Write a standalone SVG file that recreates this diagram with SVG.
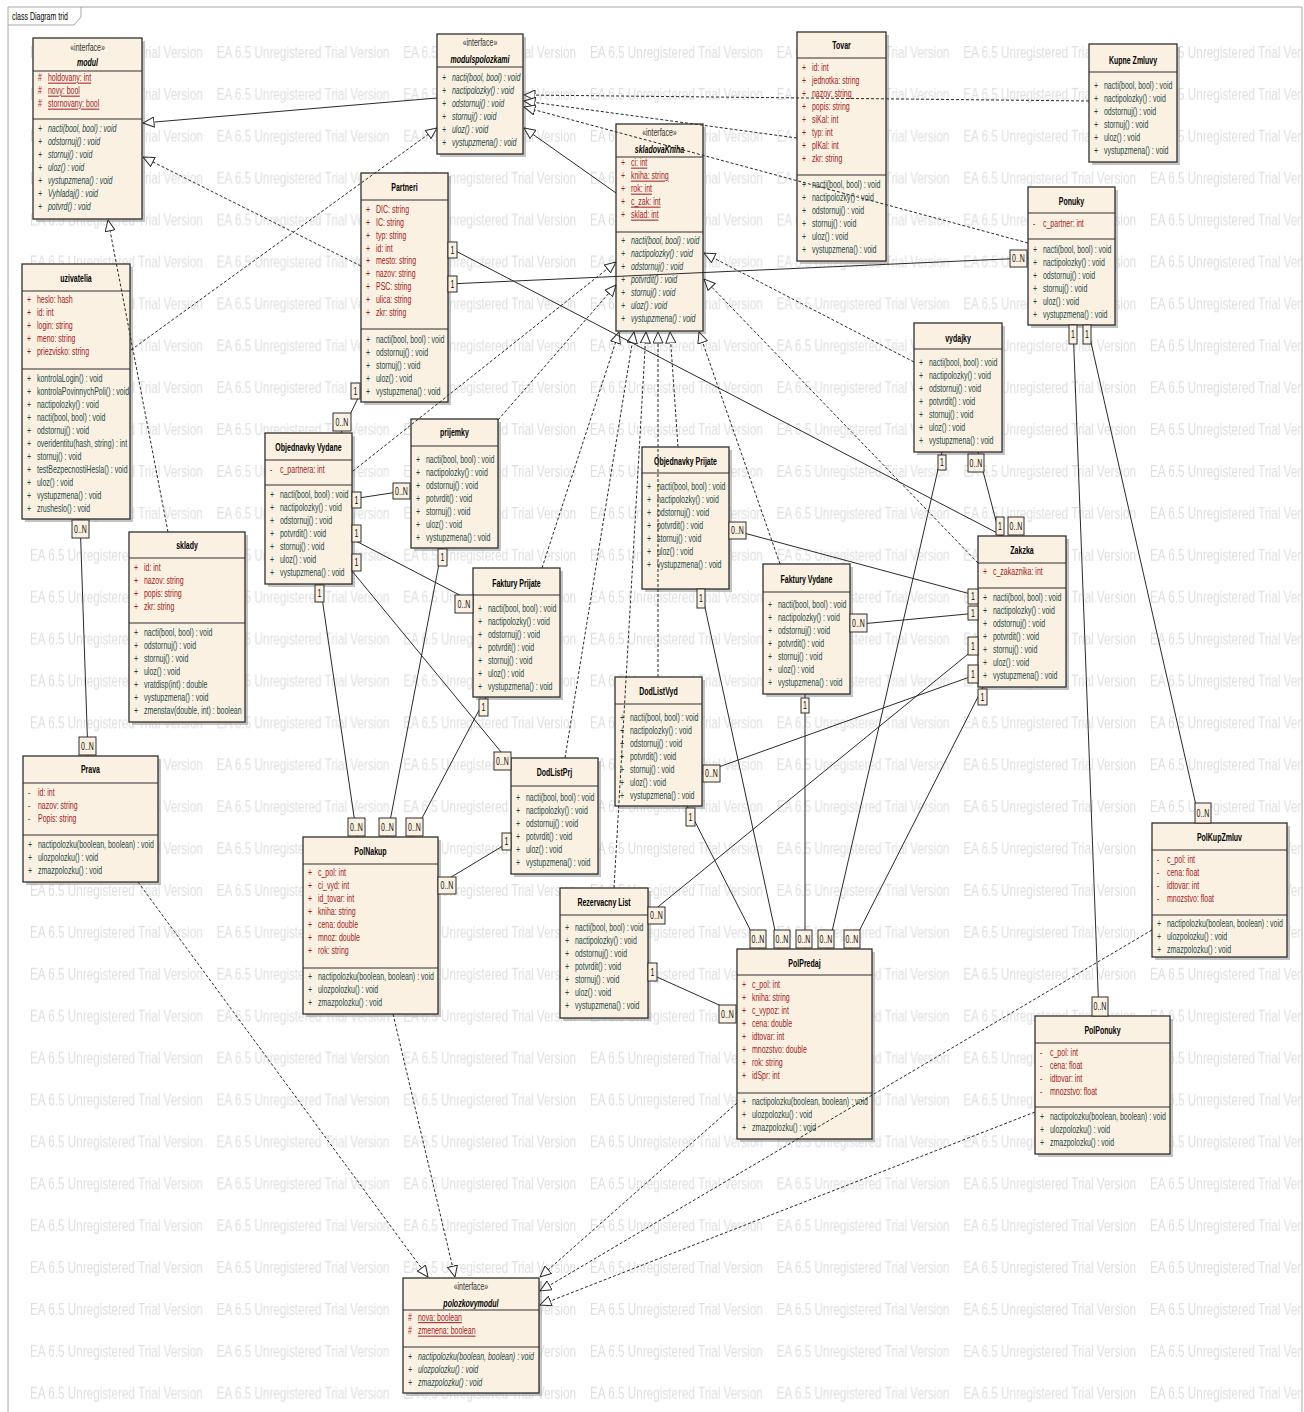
<svg xmlns="http://www.w3.org/2000/svg" width="1304" height="1412" viewBox="0 0 1304 1412">
<style>
text{font-family:"Liberation Sans",Arial,Helvetica,sans-serif;font-size:10px;fill:#111}
.box{fill:#fbf1e2;stroke:#2e2e2e;stroke-width:1.3}
.sh{fill:#9c9c9c;opacity:.6}
.sep{stroke:#2e2e2e;stroke-width:1.2;fill:none}
.t{font-weight:bold;text-anchor:middle;fill:#000}
.ti{font-weight:bold;font-style:italic;text-anchor:middle;fill:#000}
.st{text-anchor:middle;fill:#333}
.a{fill:#a3191b}
.m{fill:#1d4a4a}
.i{font-style:italic}
.u{text-decoration:underline}
.c{fill:none;stroke:#2a2a2a;stroke-width:1}
.d{stroke-dasharray:3 2}
.lb rect{fill:#fbf1e2;stroke:#2e2e2e;stroke-width:1}
.lb text{text-anchor:middle;fill:#111}
.wm{font-size:16.3px;fill:#dedede}
.fr{fill:none;stroke:#a8a8a8;stroke-width:1}
</style>
<defs>
<marker id="tri" viewBox="0 0 12 11" refX="11.5" refY="5.5" markerWidth="12" markerHeight="11" markerUnits="userSpaceOnUse" orient="auto">
<path d="M0.5 0.5L11.5 5.5L0.5 10.5Z" fill="#fff" stroke="#2a2a2a" stroke-width="1"/>
</marker>
<pattern id="wm" patternUnits="userSpaceOnUse" x="30" y="40" width="186.67" height="41.9">
<text class="wm" transform="translate(0 18) scale(.72 1)">EA 6.5 Unregistered Trial Version</text>
</pattern>
</defs>
<rect width="1304" height="1412" fill="#fff"/>
<rect x="22" y="26" width="1280" height="1386" fill="url(#wm)"/>
<g id="frame">
<path class="fr" d="M8 1412V7H1302V1412"/>
<path class="fr" d="M8 25H74L81 17V7"/>
<text transform="translate(12 19.5) scale(.7 1)" style="fill:#000">class Diagram trid</text>
</g>

<g id="modul">
<rect class="sh" x="36" y="41" width="109" height="181"/>
<rect class="box" x="33" y="38" width="109" height="181"/>
<path class="sep" d="M33 71H142M33 119H142"/>
<g transform="translate(33 0) scale(.7 1)">
<text class="st" x="77.9" y="51.5">«interface»</text>
<text class="ti" x="77.9" y="66.5">modul</text>
<text class="a" y="81.5"><tspan x="7">#</tspan><tspan x="21.4" class="u">holdovany: int</tspan></text>
<text class="a" y="94.5"><tspan x="7">#</tspan><tspan x="21.4" class="u">novy: bool</tspan></text>
<text class="a" y="107.5"><tspan x="7">#</tspan><tspan x="21.4" class="u">stornovany: bool</tspan></text>
<text class="m i" y="132.5"><tspan x="7">+</tspan><tspan x="21.4">nacti(bool, bool) : void</tspan></text>
<text class="m i" y="145.5"><tspan x="7">+</tspan><tspan x="21.4">odstornuj() : void</tspan></text>
<text class="m i" y="158.5"><tspan x="7">+</tspan><tspan x="21.4">stornuj() : void</tspan></text>
<text class="m i" y="171.5"><tspan x="7">+</tspan><tspan x="21.4">uloz() : void</tspan></text>
<text class="m i" y="184.5"><tspan x="7">+</tspan><tspan x="21.4">vystupzmena() : void</tspan></text>
<text class="m i" y="197.5"><tspan x="7">+</tspan><tspan x="21.4">Vyhladaj() : void</tspan></text>
<text class="m i" y="210.5"><tspan x="7">+</tspan><tspan x="21.4">potvrd() : void</tspan></text>
</g>
</g>

<g id="modulspolozkami">
<rect class="sh" x="440" y="37" width="86" height="120"/>
<rect class="box" x="437" y="34" width="86" height="120"/>
<path class="sep" d="M437 67H523"/>
<g transform="translate(437 0) scale(.7 1)">
<text class="st" x="61.4" y="46.5">«interface»</text>
<text class="ti" x="61.4" y="63.5">modulspolozkami</text>
<text class="m i" y="81.5"><tspan x="7">+</tspan><tspan x="21.4">nacti(bool, bool) : void</tspan></text>
<text class="m i" y="94.5"><tspan x="7">+</tspan><tspan x="21.4">nactipolozky() : void</tspan></text>
<text class="m i" y="107.5"><tspan x="7">+</tspan><tspan x="21.4">odstornuj() : void</tspan></text>
<text class="m i" y="120.5"><tspan x="7">+</tspan><tspan x="21.4">stornuj() : void</tspan></text>
<text class="m i" y="133.5"><tspan x="7">+</tspan><tspan x="21.4">uloz() : void</tspan></text>
<text class="m i" y="146.5"><tspan x="7">+</tspan><tspan x="21.4">vystupzmena() : void</tspan></text>
</g>
</g>

<g id="skladovaKniha">
<rect class="sh" x="619" y="127" width="87" height="207"/>
<rect class="box" x="616" y="124" width="87" height="207"/>
<path class="sep" d="M616 157H703M616 232H703"/>
<g transform="translate(616 0) scale(.7 1)">
<text class="st" x="62.1" y="136.5">«interface»</text>
<text class="ti" x="62.1" y="153.5">skladovaKniha</text>
<text class="a" y="166.5"><tspan x="7">+</tspan><tspan x="21.4" class="u">ci: int</tspan></text>
<text class="a" y="179.5"><tspan x="7">+</tspan><tspan x="21.4" class="u">kniha: string</tspan></text>
<text class="a" y="192.5"><tspan x="7">+</tspan><tspan x="21.4" class="u">rok: int</tspan></text>
<text class="a" y="205.5"><tspan x="7">+</tspan><tspan x="21.4" class="u">c_zak: int</tspan></text>
<text class="a" y="218.5"><tspan x="7">+</tspan><tspan x="21.4" class="u">sklad: int</tspan></text>
<text class="m i" y="244.5"><tspan x="7">+</tspan><tspan x="21.4">nacti(bool, bool) : void</tspan></text>
<text class="m i" y="257.5"><tspan x="7">+</tspan><tspan x="21.4">nactipolozky() : void</tspan></text>
<text class="m i" y="270.5"><tspan x="7">+</tspan><tspan x="21.4">odstornuj() : void</tspan></text>
<text class="m i" y="283.5"><tspan x="7">+</tspan><tspan x="21.4">potvrdit() : void</tspan></text>
<text class="m i" y="296.5"><tspan x="7">+</tspan><tspan x="21.4">stornuj() : void</tspan></text>
<text class="m i" y="309.5"><tspan x="7">+</tspan><tspan x="21.4">uloz() : void</tspan></text>
<text class="m i" y="322.5"><tspan x="7">+</tspan><tspan x="21.4">vystupzmena() : void</tspan></text>
</g>
</g>

<g id="Tovar">
<rect class="sh" x="800" y="35" width="89" height="229"/>
<rect class="box" x="797" y="32" width="89" height="229"/>
<path class="sep" d="M797 58H886M797 175H886"/>
<g transform="translate(797 0) scale(.7 1)">
<text class="t" x="63.6" y="49.5">Tovar</text>
<text class="a" y="71.5"><tspan x="7">+</tspan><tspan x="21.4">id: int</tspan></text>
<text class="a" y="84.5"><tspan x="7">+</tspan><tspan x="21.4">jednotka: string</tspan></text>
<text class="a" y="97.5"><tspan x="7">+</tspan><tspan x="21.4">nazov: string</tspan></text>
<text class="a" y="110.5"><tspan x="7">+</tspan><tspan x="21.4">popis: string</tspan></text>
<text class="a" y="123.5"><tspan x="7">+</tspan><tspan x="21.4">siKal: int</tspan></text>
<text class="a" y="136.5"><tspan x="7">+</tspan><tspan x="21.4">typ: int</tspan></text>
<text class="a" y="149.5"><tspan x="7">+</tspan><tspan x="21.4">plKal: int</tspan></text>
<text class="a" y="162.5"><tspan x="7">+</tspan><tspan x="21.4">zkr: string</tspan></text>
<text class="m" y="188.5"><tspan x="7">+</tspan><tspan x="21.4">nacti(bool, bool) : void</tspan></text>
<text class="m" y="201.5"><tspan x="7">+</tspan><tspan x="21.4">nactipolozky() : void</tspan></text>
<text class="m" y="214.5"><tspan x="7">+</tspan><tspan x="21.4">odstornuj() : void</tspan></text>
<text class="m" y="227.5"><tspan x="7">+</tspan><tspan x="21.4">stornuj() : void</tspan></text>
<text class="m" y="240.5"><tspan x="7">+</tspan><tspan x="21.4">uloz() : void</tspan></text>
<text class="m" y="253.5"><tspan x="7">+</tspan><tspan x="21.4">vystupzmena() : void</tspan></text>
</g>
</g>

<g id="KupneZmluvy">
<rect class="sh" x="1092" y="47" width="88" height="118"/>
<rect class="box" x="1089" y="44" width="88" height="118"/>
<path class="sep" d="M1089 72H1177"/>
<g transform="translate(1089 0) scale(.7 1)">
<text class="t" x="62.9" y="64">Kupne Zmluvy</text>
<text class="m" y="89.5"><tspan x="7">+</tspan><tspan x="21.4">nacti(bool, bool) : void</tspan></text>
<text class="m" y="102.5"><tspan x="7">+</tspan><tspan x="21.4">nactipolozky() : void</tspan></text>
<text class="m" y="115.5"><tspan x="7">+</tspan><tspan x="21.4">odstornuj() : void</tspan></text>
<text class="m" y="128.5"><tspan x="7">+</tspan><tspan x="21.4">stornuj() : void</tspan></text>
<text class="m" y="141.5"><tspan x="7">+</tspan><tspan x="21.4">uloz() : void</tspan></text>
<text class="m" y="154.5"><tspan x="7">+</tspan><tspan x="21.4">vystupzmena() : void</tspan></text>
</g>
</g>

<g id="Ponuky">
<rect class="sh" x="1031" y="190" width="87" height="138"/>
<rect class="box" x="1028" y="187" width="87" height="138"/>
<path class="sep" d="M1028 213H1115M1028 239H1115"/>
<g transform="translate(1028 0) scale(.7 1)">
<text class="t" x="62.1" y="205">Ponuky</text>
<text class="a" y="227.5"><tspan x="7">-</tspan><tspan x="21.4">c_partner: int</tspan></text>
<text class="m" y="253.5"><tspan x="7">+</tspan><tspan x="21.4">nacti(bool, bool) : void</tspan></text>
<text class="m" y="266.5"><tspan x="7">+</tspan><tspan x="21.4">nactipolozky() : void</tspan></text>
<text class="m" y="279.5"><tspan x="7">+</tspan><tspan x="21.4">odstornuj() : void</tspan></text>
<text class="m" y="292.5"><tspan x="7">+</tspan><tspan x="21.4">stornuj() : void</tspan></text>
<text class="m" y="305.5"><tspan x="7">+</tspan><tspan x="21.4">uloz() : void</tspan></text>
<text class="m" y="318.5"><tspan x="7">+</tspan><tspan x="21.4">vystupzmena() : void</tspan></text>
</g>
</g>

<g id="Partneri">
<rect class="sh" x="364" y="176" width="87" height="229"/>
<rect class="box" x="361" y="173" width="87" height="229"/>
<path class="sep" d="M361 200H448M361 329H448"/>
<g transform="translate(361 0) scale(.7 1)">
<text class="t" x="62.1" y="191.5">Partneri</text>
<text class="a" y="213"><tspan x="7">+</tspan><tspan x="21.4">DIC: string</tspan></text>
<text class="a" y="226"><tspan x="7">+</tspan><tspan x="21.4">IC: string</tspan></text>
<text class="a" y="239"><tspan x="7">+</tspan><tspan x="21.4">typ: string</tspan></text>
<text class="a" y="252"><tspan x="7">+</tspan><tspan x="21.4">id: int</tspan></text>
<text class="a" y="264.5"><tspan x="7">+</tspan><tspan x="21.4">mesto: string</tspan></text>
<text class="a" y="277.5"><tspan x="7">+</tspan><tspan x="21.4">nazov: string</tspan></text>
<text class="a" y="290.5"><tspan x="7">+</tspan><tspan x="21.4">PSC: string</tspan></text>
<text class="a" y="303.5"><tspan x="7">+</tspan><tspan x="21.4">ulica: string</tspan></text>
<text class="a" y="316"><tspan x="7">+</tspan><tspan x="21.4">zkr: string</tspan></text>
<text class="m" y="343"><tspan x="7">+</tspan><tspan x="21.4">nacti(bool, bool) : void</tspan></text>
<text class="m" y="356"><tspan x="7">+</tspan><tspan x="21.4">odstornuj() : void</tspan></text>
<text class="m" y="369"><tspan x="7">+</tspan><tspan x="21.4">stornuj() : void</tspan></text>
<text class="m" y="382"><tspan x="7">+</tspan><tspan x="21.4">uloz() : void</tspan></text>
<text class="m" y="395"><tspan x="7">+</tspan><tspan x="21.4">vystupzmena() : void</tspan></text>
</g>
</g>

<g id="uzivatelia">
<rect class="sh" x="25" y="267" width="108" height="255"/>
<rect class="box" x="22" y="264" width="108" height="255"/>
<path class="sep" d="M22 291H130M22 369H130"/>
<g transform="translate(22 0) scale(.7 1)">
<text class="t" x="77.1" y="282.5">uzivatelia</text>
<text class="a" y="303.5"><tspan x="7">+</tspan><tspan x="21.4">heslo: hash</tspan></text>
<text class="a" y="316.5"><tspan x="7">+</tspan><tspan x="21.4">id: int</tspan></text>
<text class="a" y="329.5"><tspan x="7">+</tspan><tspan x="21.4">login: string</tspan></text>
<text class="a" y="342.5"><tspan x="7">+</tspan><tspan x="21.4">meno: string</tspan></text>
<text class="a" y="355.5"><tspan x="7">+</tspan><tspan x="21.4">priezvisko: string</tspan></text>
<text class="m" y="382"><tspan x="7">+</tspan><tspan x="21.4">kontrolaLogin() : void</tspan></text>
<text class="m" y="395"><tspan x="7">+</tspan><tspan x="21.4">kontrolaPovinnychPoli() : void</tspan></text>
<text class="m" y="408"><tspan x="7">+</tspan><tspan x="21.4">nactipolozky() : void</tspan></text>
<text class="m" y="421"><tspan x="7">+</tspan><tspan x="21.4">nacti(bool, bool) : void</tspan></text>
<text class="m" y="434"><tspan x="7">+</tspan><tspan x="21.4">odstornuj() : void</tspan></text>
<text class="m" y="447"><tspan x="7">+</tspan><tspan x="21.4">overidentitu(hash, string) : int</tspan></text>
<text class="m" y="460"><tspan x="7">+</tspan><tspan x="21.4">stornuj() : void</tspan></text>
<text class="m" y="473"><tspan x="7">+</tspan><tspan x="21.4">testBezpecnostiHesla() : void</tspan></text>
<text class="m" y="486"><tspan x="7">+</tspan><tspan x="21.4">uloz() : void</tspan></text>
<text class="m" y="499"><tspan x="7">+</tspan><tspan x="21.4">vystupzmena() : void</tspan></text>
<text class="m" y="512"><tspan x="7">+</tspan><tspan x="21.4">zrusheslo() : void</tspan></text>
</g>
</g>

<g id="sklady">
<rect class="sh" x="132" y="535" width="116" height="190"/>
<rect class="box" x="129" y="532" width="116" height="190"/>
<path class="sep" d="M129 558H245M129 623H245"/>
<g transform="translate(129 0) scale(.7 1)">
<text class="t" x="82.9" y="549">sklady</text>
<text class="a" y="571.5"><tspan x="7">+</tspan><tspan x="21.4">id: int</tspan></text>
<text class="a" y="584.5"><tspan x="7">+</tspan><tspan x="21.4">nazov: string</tspan></text>
<text class="a" y="597.5"><tspan x="7">+</tspan><tspan x="21.4">popis: string</tspan></text>
<text class="a" y="610.5"><tspan x="7">+</tspan><tspan x="21.4">zkr: string</tspan></text>
<text class="m" y="636.5"><tspan x="7">+</tspan><tspan x="21.4">nacti(bool, bool) : void</tspan></text>
<text class="m" y="649.5"><tspan x="7">+</tspan><tspan x="21.4">odstornuj() : void</tspan></text>
<text class="m" y="662.5"><tspan x="7">+</tspan><tspan x="21.4">stornuj() : void</tspan></text>
<text class="m" y="675.5"><tspan x="7">+</tspan><tspan x="21.4">uloz() : void</tspan></text>
<text class="m" y="688.5"><tspan x="7">+</tspan><tspan x="21.4">vratdisp(int) : double</tspan></text>
<text class="m" y="701.5"><tspan x="7">+</tspan><tspan x="21.4">vystupzmena() : void</tspan></text>
<text class="m" y="714.5"><tspan x="7">+</tspan><tspan x="21.4">zmenstav(double, int) : boolean</tspan></text>
</g>
</g>

<g id="Prava">
<rect class="sh" x="26" y="759" width="135" height="126"/>
<rect class="box" x="23" y="756" width="135" height="126"/>
<path class="sep" d="M23 783H158M23 835H158"/>
<g transform="translate(23 0) scale(.7 1)">
<text class="t" x="96.4" y="773.5">Prava</text>
<text class="a" y="796"><tspan x="7">-</tspan><tspan x="21.4">id: int</tspan></text>
<text class="a" y="809"><tspan x="7">-</tspan><tspan x="21.4">nazov: string</tspan></text>
<text class="a" y="822"><tspan x="7">-</tspan><tspan x="21.4">Popis: string</tspan></text>
<text class="m" y="848"><tspan x="7">+</tspan><tspan x="21.4">nactipolozku(boolean, boolean) : void</tspan></text>
<text class="m" y="861"><tspan x="7">+</tspan><tspan x="21.4">ulozpolozku() : void</tspan></text>
<text class="m" y="874"><tspan x="7">+</tspan><tspan x="21.4">zmazpolozku() : void</tspan></text>
</g>
</g>

<g id="ObjednavkyVydane">
<rect class="sh" x="268" y="436" width="87" height="151"/>
<rect class="box" x="265" y="433" width="87" height="151"/>
<path class="sep" d="M265 460H352M265 485H352"/>
<g transform="translate(265 0) scale(.7 1)">
<text class="t" x="62.1" y="451">Objednavky Vydane</text>
<text class="a" y="473"><tspan x="7">-</tspan><tspan x="21.4">c_partnera: int</tspan></text>
<text class="m" y="498.5"><tspan x="7">+</tspan><tspan x="21.4">nacti(bool, bool) : void</tspan></text>
<text class="m" y="511.5"><tspan x="7">+</tspan><tspan x="21.4">nactipolozky() : void</tspan></text>
<text class="m" y="524.5"><tspan x="7">+</tspan><tspan x="21.4">odstornuj() : void</tspan></text>
<text class="m" y="537.5"><tspan x="7">+</tspan><tspan x="21.4">potvrdit() : void</tspan></text>
<text class="m" y="550.5"><tspan x="7">+</tspan><tspan x="21.4">stornuj() : void</tspan></text>
<text class="m" y="563.5"><tspan x="7">+</tspan><tspan x="21.4">uloz() : void</tspan></text>
<text class="m" y="576.5"><tspan x="7">+</tspan><tspan x="21.4">vystupzmena() : void</tspan></text>
</g>
</g>

<g id="prijemky">
<rect class="sh" x="414" y="422" width="87" height="129"/>
<rect class="box" x="411" y="419" width="87" height="129"/>
<path class="sep" d="M411 446H498"/>
<g transform="translate(411 0) scale(.7 1)">
<text class="t" x="62.1" y="436.5">prijemky</text>
<text class="m" y="463.5"><tspan x="7">+</tspan><tspan x="21.4">nacti(bool, bool) : void</tspan></text>
<text class="m" y="476.5"><tspan x="7">+</tspan><tspan x="21.4">nactipolozky() : void</tspan></text>
<text class="m" y="489.5"><tspan x="7">+</tspan><tspan x="21.4">odstornuj() : void</tspan></text>
<text class="m" y="502"><tspan x="7">+</tspan><tspan x="21.4">potvrdit() : void</tspan></text>
<text class="m" y="515"><tspan x="7">+</tspan><tspan x="21.4">stornuj() : void</tspan></text>
<text class="m" y="528"><tspan x="7">+</tspan><tspan x="21.4">uloz() : void</tspan></text>
<text class="m" y="541"><tspan x="7">+</tspan><tspan x="21.4">vystupzmena() : void</tspan></text>
</g>
</g>

<g id="FakturyPrijate">
<rect class="sh" x="476" y="571" width="87" height="129"/>
<rect class="box" x="473" y="568" width="87" height="129"/>
<path class="sep" d="M473 595H560"/>
<g transform="translate(473 0) scale(.7 1)">
<text class="t" x="62.1" y="587">Faktury Prijate</text>
<text class="m" y="612.5"><tspan x="7">+</tspan><tspan x="21.4">nacti(bool, bool) : void</tspan></text>
<text class="m" y="625.5"><tspan x="7">+</tspan><tspan x="21.4">nactipolozky() : void</tspan></text>
<text class="m" y="638.5"><tspan x="7">+</tspan><tspan x="21.4">odstornuj() : void</tspan></text>
<text class="m" y="651.5"><tspan x="7">+</tspan><tspan x="21.4">potvrdit() : void</tspan></text>
<text class="m" y="664.5"><tspan x="7">+</tspan><tspan x="21.4">stornuj() : void</tspan></text>
<text class="m" y="677.5"><tspan x="7">+</tspan><tspan x="21.4">uloz() : void</tspan></text>
<text class="m" y="690.5"><tspan x="7">+</tspan><tspan x="21.4">vystupzmena() : void</tspan></text>
</g>
</g>

<g id="DodListPrj">
<rect class="sh" x="514" y="761" width="87" height="116"/>
<rect class="box" x="511" y="758" width="87" height="116"/>
<path class="sep" d="M511 786H598"/>
<g transform="translate(511 0) scale(.7 1)">
<text class="t" x="62.1" y="776">DodListPrj</text>
<text class="m" y="801.5"><tspan x="7">+</tspan><tspan x="21.4">nacti(bool, bool) : void</tspan></text>
<text class="m" y="814.5"><tspan x="7">+</tspan><tspan x="21.4">nactipolozky() : void</tspan></text>
<text class="m" y="827.5"><tspan x="7">+</tspan><tspan x="21.4">odstornuj() : void</tspan></text>
<text class="m" y="840.5"><tspan x="7">+</tspan><tspan x="21.4">potvrdit() : void</tspan></text>
<text class="m" y="853.5"><tspan x="7">+</tspan><tspan x="21.4">uloz() : void</tspan></text>
<text class="m" y="866.5"><tspan x="7">+</tspan><tspan x="21.4">vystupzmena() : void</tspan></text>
</g>
</g>

<g id="ObjednavkyPrijate">
<rect class="sh" x="645" y="450" width="87" height="142"/>
<rect class="box" x="642" y="447" width="87" height="142"/>
<path class="sep" d="M642 473H729"/>
<g transform="translate(642 0) scale(.7 1)">
<text class="t" x="62.1" y="465">Objednavky Prijate</text>
<text class="m" y="490.5"><tspan x="7">+</tspan><tspan x="21.4">nacti(bool, bool) : void</tspan></text>
<text class="m" y="503.5"><tspan x="7">+</tspan><tspan x="21.4">nactipolozky() : void</tspan></text>
<text class="m" y="516.5"><tspan x="7">+</tspan><tspan x="21.4">odstornuj() : void</tspan></text>
<text class="m" y="529.5"><tspan x="7">+</tspan><tspan x="21.4">potvrdit() : void</tspan></text>
<text class="m" y="542.5"><tspan x="7">+</tspan><tspan x="21.4">stornuj() : void</tspan></text>
<text class="m" y="555.5"><tspan x="7">+</tspan><tspan x="21.4">uloz() : void</tspan></text>
<text class="m" y="568.5"><tspan x="7">+</tspan><tspan x="21.4">vystupzmena() : void</tspan></text>
</g>
</g>

<g id="FakturyVydane">
<rect class="sh" x="766" y="567" width="87" height="130"/>
<rect class="box" x="763" y="564" width="87" height="130"/>
<path class="sep" d="M763 592H850"/>
<g transform="translate(763 0) scale(.7 1)">
<text class="t" x="62.1" y="583">Faktury Vydane</text>
<text class="m" y="608.5"><tspan x="7">+</tspan><tspan x="21.4">nacti(bool, bool) : void</tspan></text>
<text class="m" y="621.5"><tspan x="7">+</tspan><tspan x="21.4">nactipolozky() : void</tspan></text>
<text class="m" y="634.5"><tspan x="7">+</tspan><tspan x="21.4">odstornuj() : void</tspan></text>
<text class="m" y="647.5"><tspan x="7">+</tspan><tspan x="21.4">potvrdit() : void</tspan></text>
<text class="m" y="660.5"><tspan x="7">+</tspan><tspan x="21.4">stornuj() : void</tspan></text>
<text class="m" y="673.5"><tspan x="7">+</tspan><tspan x="21.4">uloz() : void</tspan></text>
<text class="m" y="686.5"><tspan x="7">+</tspan><tspan x="21.4">vystupzmena() : void</tspan></text>
</g>
</g>

<g id="DodListVyd">
<rect class="sh" x="618" y="680" width="87" height="129"/>
<rect class="box" x="615" y="677" width="87" height="129"/>
<path class="sep" d="M615 704H702"/>
<g transform="translate(615 0) scale(.7 1)">
<text class="t" x="62.1" y="695">DodListVyd</text>
<text class="m" y="721.5"><tspan x="7">+</tspan><tspan x="21.4">nacti(bool, bool) : void</tspan></text>
<text class="m" y="734.5"><tspan x="7">+</tspan><tspan x="21.4">nactipolozky() : void</tspan></text>
<text class="m" y="747.5"><tspan x="7">+</tspan><tspan x="21.4">odstornuj() : void</tspan></text>
<text class="m" y="760.5"><tspan x="7">+</tspan><tspan x="21.4">potvrdit() : void</tspan></text>
<text class="m" y="773.5"><tspan x="7">+</tspan><tspan x="21.4">stornuj() : void</tspan></text>
<text class="m" y="786.5"><tspan x="7">+</tspan><tspan x="21.4">uloz() : void</tspan></text>
<text class="m" y="799.5"><tspan x="7">+</tspan><tspan x="21.4">vystupzmena() : void</tspan></text>
</g>
</g>

<g id="vydajky">
<rect class="sh" x="917" y="326" width="88" height="129"/>
<rect class="box" x="914" y="323" width="88" height="129"/>
<path class="sep" d="M914 349H1002"/>
<g transform="translate(914 0) scale(.7 1)">
<text class="t" x="62.9" y="342">vydajky</text>
<text class="m" y="366.5"><tspan x="7">+</tspan><tspan x="21.4">nacti(bool, bool) : void</tspan></text>
<text class="m" y="379.5"><tspan x="7">+</tspan><tspan x="21.4">nactipolozky() : void</tspan></text>
<text class="m" y="392.5"><tspan x="7">+</tspan><tspan x="21.4">odstornuj() : void</tspan></text>
<text class="m" y="405.5"><tspan x="7">+</tspan><tspan x="21.4">potvrdit() : void</tspan></text>
<text class="m" y="418.5"><tspan x="7">+</tspan><tspan x="21.4">stornuj() : void</tspan></text>
<text class="m" y="431.5"><tspan x="7">+</tspan><tspan x="21.4">uloz() : void</tspan></text>
<text class="m" y="444.5"><tspan x="7">+</tspan><tspan x="21.4">vystupzmena() : void</tspan></text>
</g>
</g>

<g id="Zakzka">
<rect class="sh" x="981" y="539" width="88" height="151"/>
<rect class="box" x="978" y="536" width="88" height="151"/>
<path class="sep" d="M978 563H1066M978 588H1066"/>
<g transform="translate(978 0) scale(.7 1)">
<text class="t" x="62.9" y="554">Zakzka</text>
<text class="a" y="575.5"><tspan x="7">+</tspan><tspan x="21.4">c_zakaznika: int</tspan></text>
<text class="m" y="601.5"><tspan x="7">+</tspan><tspan x="21.4">nacti(bool, bool) : void</tspan></text>
<text class="m" y="614.5"><tspan x="7">+</tspan><tspan x="21.4">nactipolozky() : void</tspan></text>
<text class="m" y="627.5"><tspan x="7">+</tspan><tspan x="21.4">odstornuj() : void</tspan></text>
<text class="m" y="640.5"><tspan x="7">+</tspan><tspan x="21.4">potvrdit() : void</tspan></text>
<text class="m" y="653.5"><tspan x="7">+</tspan><tspan x="21.4">stornuj() : void</tspan></text>
<text class="m" y="666.5"><tspan x="7">+</tspan><tspan x="21.4">uloz() : void</tspan></text>
<text class="m" y="679.5"><tspan x="7">+</tspan><tspan x="21.4">vystupzmena() : void</tspan></text>
</g>
</g>

<g id="PolNakup">
<rect class="sh" x="306" y="840" width="135" height="177"/>
<rect class="box" x="303" y="837" width="135" height="177"/>
<path class="sep" d="M303 864H438M303 968H438"/>
<g transform="translate(303 0) scale(.7 1)">
<text class="t" x="96.4" y="855.5">PolNakup</text>
<text class="a" y="876.5"><tspan x="7">+</tspan><tspan x="21.4">c_pol: int</tspan></text>
<text class="a" y="889.5"><tspan x="7">+</tspan><tspan x="21.4">ci_vyd: int</tspan></text>
<text class="a" y="902.5"><tspan x="7">+</tspan><tspan x="21.4">id_tovar: int</tspan></text>
<text class="a" y="915.5"><tspan x="7">+</tspan><tspan x="21.4">kniha: string</tspan></text>
<text class="a" y="928.5"><tspan x="7">+</tspan><tspan x="21.4">cena: double</tspan></text>
<text class="a" y="941.5"><tspan x="7">+</tspan><tspan x="21.4">mnoz: double</tspan></text>
<text class="a" y="954.5"><tspan x="7">+</tspan><tspan x="21.4">rok: string</tspan></text>
<text class="m" y="980.5"><tspan x="7">+</tspan><tspan x="21.4">nactipolozku(boolean, boolean) : void</tspan></text>
<text class="m" y="993.5"><tspan x="7">+</tspan><tspan x="21.4">ulozpolozku() : void</tspan></text>
<text class="m" y="1006.5"><tspan x="7">+</tspan><tspan x="21.4">zmazpolozku() : void</tspan></text>
</g>
</g>

<g id="RezervacnyList">
<rect class="sh" x="563" y="891" width="88" height="130"/>
<rect class="box" x="560" y="888" width="88" height="130"/>
<path class="sep" d="M560 915H648"/>
<g transform="translate(560 0) scale(.7 1)">
<text class="t" x="62.9" y="906">Rezervacny List</text>
<text class="m" y="931.5"><tspan x="7">+</tspan><tspan x="21.4">nacti(bool, bool) : void</tspan></text>
<text class="m" y="944.5"><tspan x="7">+</tspan><tspan x="21.4">nactipolozky() : void</tspan></text>
<text class="m" y="957.5"><tspan x="7">+</tspan><tspan x="21.4">odstornuj() : void</tspan></text>
<text class="m" y="970.5"><tspan x="7">+</tspan><tspan x="21.4">potvrdit() : void</tspan></text>
<text class="m" y="983.5"><tspan x="7">+</tspan><tspan x="21.4">stornuj() : void</tspan></text>
<text class="m" y="996.5"><tspan x="7">+</tspan><tspan x="21.4">uloz() : void</tspan></text>
<text class="m" y="1009.5"><tspan x="7">+</tspan><tspan x="21.4">vystupzmena() : void</tspan></text>
</g>
</g>

<g id="PolPredaj">
<rect class="sh" x="740" y="952" width="135" height="190"/>
<rect class="box" x="737" y="949" width="135" height="190"/>
<path class="sep" d="M737 975H872M737 1093H872"/>
<g transform="translate(737 0) scale(.7 1)">
<text class="t" x="96.4" y="967">PolPredaj</text>
<text class="a" y="988.5"><tspan x="7">+</tspan><tspan x="21.4">c_pol: int</tspan></text>
<text class="a" y="1001.5"><tspan x="7">+</tspan><tspan x="21.4">kniha: string</tspan></text>
<text class="a" y="1014.5"><tspan x="7">+</tspan><tspan x="21.4">c_vypoz: int</tspan></text>
<text class="a" y="1027.5"><tspan x="7">+</tspan><tspan x="21.4">cena: double</tspan></text>
<text class="a" y="1040.5"><tspan x="7">+</tspan><tspan x="21.4">idtovar: int</tspan></text>
<text class="a" y="1053.5"><tspan x="7">+</tspan><tspan x="21.4">mnozstvo: double</tspan></text>
<text class="a" y="1066.5"><tspan x="7">+</tspan><tspan x="21.4">rok: string</tspan></text>
<text class="a" y="1079.5"><tspan x="7">+</tspan><tspan x="21.4">idSpr: int</tspan></text>
<text class="m" y="1105.5"><tspan x="7">+</tspan><tspan x="21.4">nactipolozku(boolean, boolean) : void</tspan></text>
<text class="m" y="1118.5"><tspan x="7">+</tspan><tspan x="21.4">ulozpolozku() : void</tspan></text>
<text class="m" y="1131.5"><tspan x="7">+</tspan><tspan x="21.4">zmazpolozku() : void</tspan></text>
</g>
</g>

<g id="PolKupZmluv">
<rect class="sh" x="1155" y="826" width="135" height="134"/>
<rect class="box" x="1152" y="823" width="135" height="134"/>
<path class="sep" d="M1152 850H1287M1152 915H1287"/>
<g transform="translate(1152 0) scale(.7 1)">
<text class="t" x="96.4" y="841">PolKupZmluv</text>
<text class="a" y="863.5"><tspan x="7">-</tspan><tspan x="21.4">c_pol: int</tspan></text>
<text class="a" y="876.3"><tspan x="7">-</tspan><tspan x="21.4">cena: float</tspan></text>
<text class="a" y="889"><tspan x="7">-</tspan><tspan x="21.4">idtovar: int</tspan></text>
<text class="a" y="902"><tspan x="7">-</tspan><tspan x="21.4">mnozstvo: float</tspan></text>
<text class="m" y="927.5"><tspan x="7">+</tspan><tspan x="21.4">nactipolozku(boolean, boolean) : void</tspan></text>
<text class="m" y="940.5"><tspan x="7">+</tspan><tspan x="21.4">ulozpolozku() : void</tspan></text>
<text class="m" y="953.5"><tspan x="7">+</tspan><tspan x="21.4">zmazpolozku() : void</tspan></text>
</g>
</g>

<g id="PolPonuky">
<rect class="sh" x="1038" y="1019" width="135" height="138"/>
<rect class="box" x="1035" y="1016" width="135" height="138"/>
<path class="sep" d="M1035 1043H1170M1035 1107H1170"/>
<g transform="translate(1035 0) scale(.7 1)">
<text class="t" x="96.4" y="1034">PolPonuky</text>
<text class="a" y="1056.5"><tspan x="7">-</tspan><tspan x="21.4">c_pol: int</tspan></text>
<text class="a" y="1069.3"><tspan x="7">-</tspan><tspan x="21.4">cena: float</tspan></text>
<text class="a" y="1082"><tspan x="7">-</tspan><tspan x="21.4">idtovar: int</tspan></text>
<text class="a" y="1094.8"><tspan x="7">-</tspan><tspan x="21.4">mnozstvo: float</tspan></text>
<text class="m" y="1120.5"><tspan x="7">+</tspan><tspan x="21.4">nactipolozku(boolean, boolean) : void</tspan></text>
<text class="m" y="1133.5"><tspan x="7">+</tspan><tspan x="21.4">ulozpolozku() : void</tspan></text>
<text class="m" y="1146.5"><tspan x="7">+</tspan><tspan x="21.4">zmazpolozku() : void</tspan></text>
</g>
</g>

<g id="polozkovymodul">
<rect class="sh" x="406" y="1281" width="136" height="115"/>
<rect class="box" x="403" y="1278" width="136" height="115"/>
<path class="sep" d="M403 1310H539M403 1347H539"/>
<g transform="translate(403 0) scale(.7 1)">
<text class="st" x="97.1" y="1290">«interface»</text>
<text class="ti" x="97.1" y="1307">polozkovymodul</text>
<text class="a" y="1321"><tspan x="7">#</tspan><tspan x="21.4" class="u">nova: boolean</tspan></text>
<text class="a" y="1334.5"><tspan x="7">#</tspan><tspan x="21.4" class="u">zmenena: boolean</tspan></text>
<text class="m i" y="1360.5"><tspan x="7">+</tspan><tspan x="21.4">nactipolozku(boolean, boolean) : void</tspan></text>
<text class="m i" y="1373.5"><tspan x="7">+</tspan><tspan x="21.4">ulozpolozku() : void</tspan></text>
<text class="m i" y="1386.5"><tspan x="7">+</tspan><tspan x="21.4">zmazpolozku() : void</tspan></text>
</g>
</g>

<g id="connectors">
<path class="c" d="M437 98L143 123" marker-end="url(#tri)"/>
<path class="c" d="M616 193L524 128" marker-end="url(#tri)"/>
<path class="c d" d="M1089 101L524 95" marker-end="url(#tri)"/>
<path class="c d" d="M797 138L524 101" marker-end="url(#tri)"/>
<path class="c d" d="M1028 243L524 107" marker-end="url(#tri)"/>
<path class="c d" d="M131 350L437 128" marker-end="url(#tri)"/>
<path class="c d" d="M361 266L143 157" marker-end="url(#tri)"/>
<path class="c d" d="M168 532L108 220" marker-end="url(#tri)"/>
<path class="c d" d="M353 471L616 262" marker-end="url(#tri)"/>
<path class="c d" d="M498 420L616 285" marker-end="url(#tri)"/>
<path class="c d" d="M542 568L619 332" marker-end="url(#tri)"/>
<path class="c d" d="M565 758L634 332" marker-end="url(#tri)"/>
<path class="c d" d="M614 888L646 332" marker-end="url(#tri)"/>
<path class="c d" d="M658 677L658 332" marker-end="url(#tri)"/>
<path class="c d" d="M678 447L670 332" marker-end="url(#tri)"/>
<path class="c d" d="M780 564L699 332" marker-end="url(#tri)"/>
<path class="c d" d="M914 362L704 253" marker-end="url(#tri)"/>
<path class="c d" d="M978 563L704 279" marker-end="url(#tri)"/>
<path class="c d" d="M138 882L428 1277" marker-end="url(#tri)"/>
<path class="c d" d="M393 1014L455 1277" marker-end="url(#tri)"/>
<path class="c d" d="M737 1103L540 1277" marker-end="url(#tri)"/>
<path class="c d" d="M1152 930L540 1291" marker-end="url(#tri)"/>
<path class="c d" d="M1035 1112L540 1305" marker-end="url(#tri)"/>

<path class="c" d="M448 247L1003 536"/>
<path class="c" d="M448 284L1028 258"/>
<path class="c" d="M359 396L341 433"/>
<path class="c" d="M352 499L411 490"/>
<path class="c" d="M352 539L473 602"/>
<path class="c" d="M352 571L506 758"/>
<path class="c" d="M320 584L357 837"/>
<path class="c" d="M442 548L387 837"/>
<path class="c" d="M486 697L412 837"/>
<path class="c" d="M511 841L438 885"/>
<path class="c" d="M729 529L978 596"/>
<path class="c" d="M850 625L978 613"/>
<path class="c" d="M648 915L978 646"/>
<path class="c" d="M702 773L978 674"/>
<path class="c" d="M983 687L850 949"/>
<path class="c" d="M687 806L760 949"/>
<path class="c" d="M701 589L779 949"/>
<path class="c" d="M805 694L805 949"/>
<path class="c" d="M942 452L828 949"/>
<path class="c" d="M978 452L1000 536"/>
<path class="c" d="M648 973L737 1013"/>
<path class="c" d="M80 519L88 756"/>
<path class="c" d="M1073 325L1099 1016"/>
<path class="c" d="M1087 325L1200 823"/>

<g class="lb">
<rect x="448" y="242" width="9" height="16"/><text transform="translate(452.5 253.5) scale(.7 1)">1</text>
<rect x="448" y="276" width="9" height="16"/><text transform="translate(452.5 287.5) scale(.7 1)">1</text>
<rect x="1010" y="250" width="17" height="17"/><text transform="translate(1018.5 262) scale(.7 1)">0..N</text>
<rect x="351" y="383" width="9" height="16"/><text transform="translate(355.5 394.5) scale(.7 1)">1</text>
<rect x="333" y="413" width="18" height="18"/><text transform="translate(342 425.5) scale(.7 1)">0..N</text>
<rect x="352" y="492" width="9" height="16"/><text transform="translate(356.5 503.5) scale(.7 1)">1</text>
<rect x="393" y="483" width="17" height="16"/><text transform="translate(401.5 494.5) scale(.7 1)">0..N</text>
<rect x="352" y="525" width="9" height="17"/><text transform="translate(356.5 537) scale(.7 1)">1</text>
<rect x="455" y="595" width="18" height="18"/><text transform="translate(464 607.5) scale(.7 1)">0..N</text>
<rect x="352" y="554" width="9" height="17"/><text transform="translate(356.5 566) scale(.7 1)">1</text>
<rect x="494" y="752" width="17" height="18"/><text transform="translate(502.5 764.5) scale(.7 1)">0..N</text>
<rect x="315" y="585" width="9" height="17"/><text transform="translate(319.5 597) scale(.7 1)">1</text>
<rect x="348" y="818" width="17" height="18"/><text transform="translate(356.5 830.5) scale(.7 1)">0..N</text>
<rect x="438" y="549" width="9" height="17"/><text transform="translate(442.5 561) scale(.7 1)">1</text>
<rect x="379" y="818" width="17" height="18"/><text transform="translate(387.5 830.5) scale(.7 1)">0..N</text>
<rect x="479" y="699" width="9" height="17"/><text transform="translate(483.5 711) scale(.7 1)">1</text>
<rect x="406" y="818" width="17" height="18"/><text transform="translate(414.5 830.5) scale(.7 1)">0..N</text>
<rect x="502" y="833" width="9" height="17"/><text transform="translate(506.5 845) scale(.7 1)">1</text>
<rect x="438" y="877" width="18" height="17"/><text transform="translate(447 889) scale(.7 1)">0..N</text>
<rect x="729" y="522" width="17" height="17"/><text transform="translate(737.5 534) scale(.7 1)">0..N</text>
<rect x="968" y="589" width="10" height="15"/><text transform="translate(973 600) scale(.7 1)">1</text>
<rect x="850" y="614" width="17" height="18"/><text transform="translate(858.5 626.5) scale(.7 1)">0..N</text>
<rect x="968" y="606" width="10" height="14"/><text transform="translate(973 616.5) scale(.7 1)">1</text>
<rect x="968" y="637" width="10" height="18"/><text transform="translate(973 649.5) scale(.7 1)">1</text>
<rect x="968" y="665" width="10" height="18"/><text transform="translate(973 677.5) scale(.7 1)">1</text>
<rect x="978" y="689" width="9" height="16"/><text transform="translate(982.5 700.5) scale(.7 1)">1</text>
<rect x="703" y="765" width="17" height="17"/><text transform="translate(711.5 777) scale(.7 1)">0..N</text>
<rect x="648" y="907" width="17" height="17"/><text transform="translate(656.5 919) scale(.7 1)">0..N</text>
<rect x="686" y="808" width="9" height="18"/><text transform="translate(690.5 820.5) scale(.7 1)">1</text>
<rect x="750" y="930" width="16" height="18"/><text transform="translate(758 942.5) scale(.7 1)">0..N</text>
<rect x="774" y="930" width="16" height="18"/><text transform="translate(782 942.5) scale(.7 1)">0..N</text>
<rect x="796" y="930" width="16" height="18"/><text transform="translate(804 942.5) scale(.7 1)">0..N</text>
<rect x="818" y="930" width="16" height="18"/><text transform="translate(826 942.5) scale(.7 1)">0..N</text>
<rect x="844" y="930" width="16" height="18"/><text transform="translate(852 942.5) scale(.7 1)">0..N</text>
<rect x="697" y="589" width="8" height="19"/><text transform="translate(701 602) scale(.7 1)">1</text>
<rect x="801" y="698" width="8" height="15"/><text transform="translate(805 709) scale(.7 1)">1</text>
<rect x="938" y="455" width="8" height="15"/><text transform="translate(942 466) scale(.7 1)">1</text>
<rect x="968" y="454" width="16" height="18"/><text transform="translate(976 466.5) scale(.7 1)">0..N</text>
<rect x="996" y="517" width="8" height="18"/><text transform="translate(1000 529.5) scale(.7 1)">1</text>
<rect x="1008" y="517" width="16" height="18"/><text transform="translate(1016 529.5) scale(.7 1)">0..N</text>
<rect x="648" y="963" width="9" height="18"/><text transform="translate(652.5 975.5) scale(.7 1)">1</text>
<rect x="719" y="1005" width="17" height="18"/><text transform="translate(727.5 1017.5) scale(.7 1)">0..N</text>
<rect x="72" y="520" width="17" height="18"/><text transform="translate(80.5 532.5) scale(.7 1)">0..N</text>
<rect x="79" y="737" width="17" height="18"/><text transform="translate(87.5 749.5) scale(.7 1)">0..N</text>
<rect x="1069" y="325" width="8" height="19"/><text transform="translate(1073 338) scale(.7 1)">1</text>
<rect x="1083" y="325" width="8" height="19"/><text transform="translate(1087 338) scale(.7 1)">1</text>
<rect x="1092" y="997" width="16" height="19"/><text transform="translate(1100 1010) scale(.7 1)">0..N</text>
<rect x="1195" y="803" width="16" height="20"/><text transform="translate(1203 816.5) scale(.7 1)">0..N</text>
</g>
</g>
</svg>
